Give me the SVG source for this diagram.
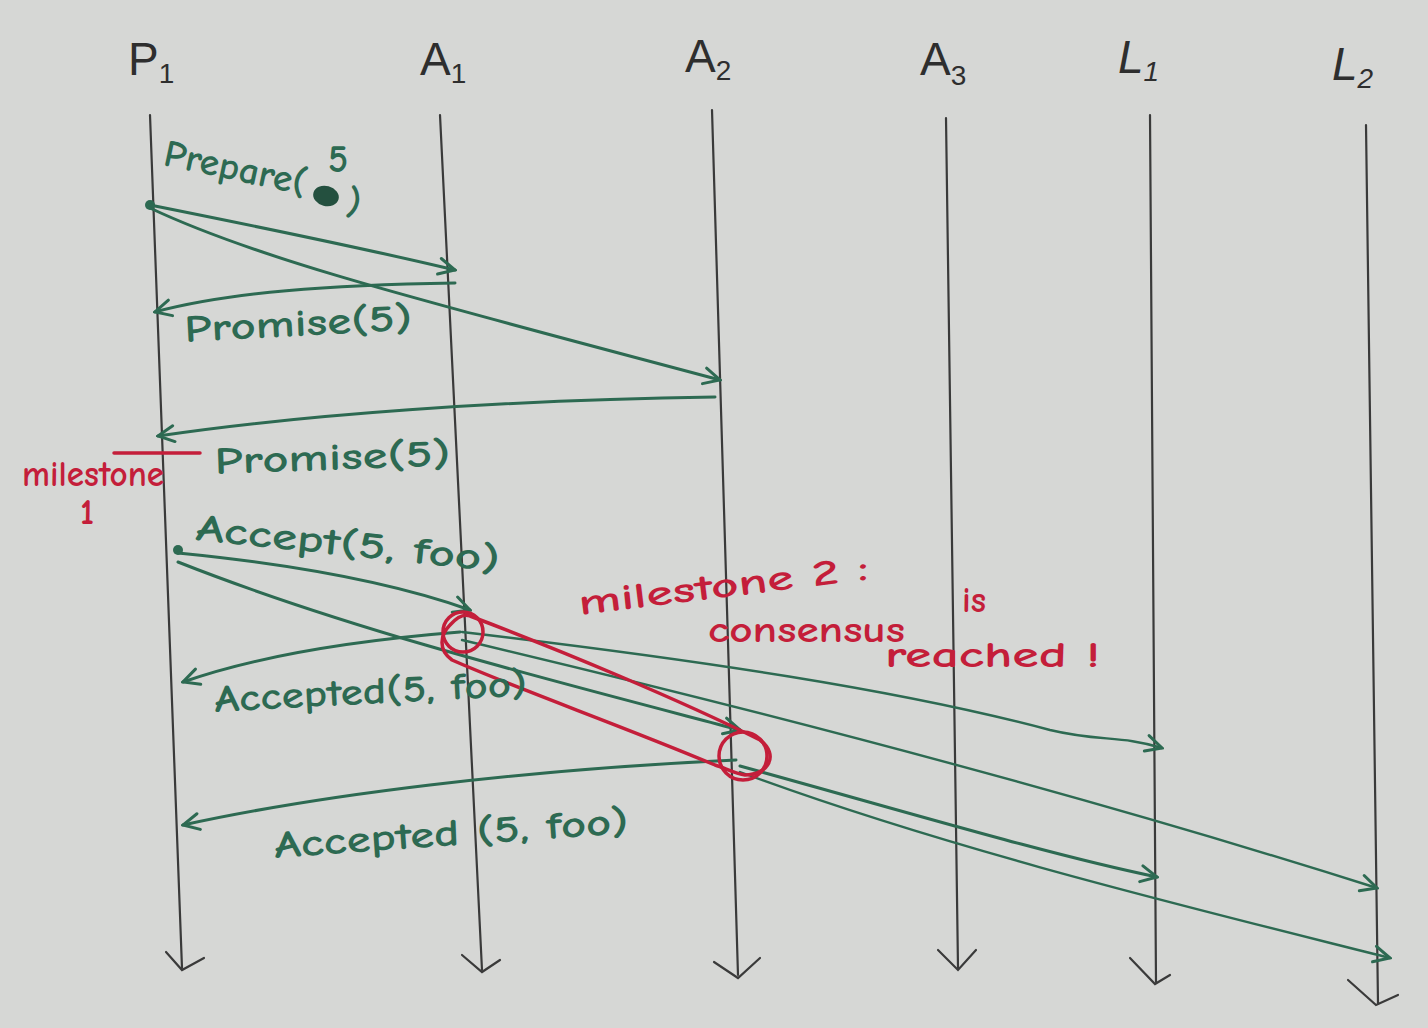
<svg xmlns="http://www.w3.org/2000/svg" width="1428" height="1028" viewBox="0 0 1428 1028">
<defs>
<style>
.life{stroke:#3a3a3a;stroke-width:2.2;fill:none;stroke-linecap:round}
.msg{stroke:#2d6a52;stroke-width:3;fill:none;stroke-linecap:round}
.thin{stroke-width:2.4}
.red{stroke:#c41e3a;stroke-width:3.5;fill:none;stroke-linecap:round}
.hd{font-family:"Liberation Sans","DejaVu Sans",sans-serif;font-size:46px;fill:#2e2e2e}
.sub{font-size:28px}
.g{font-family:"Comic Neue","Liberation Sans","DejaVu Sans",sans-serif;font-size:38px;fill:#2d6a52;font-weight:bold}
.r{font-family:"Comic Neue","Liberation Sans","DejaVu Sans",sans-serif;font-size:36px;fill:#c41e3a;font-weight:bold}
</style>
<marker id="ah" viewBox="0 0 20 20" refX="18" refY="10" markerWidth="20" markerHeight="20" markerUnits="userSpaceOnUse" orient="auto">
<path d="M2,2 L18,10 L2,18" fill="none" stroke="#2d6a52" stroke-width="3" stroke-linecap="round"/>
</marker>
</defs>
<rect width="1428" height="1028" fill="#d6d7d5"/>

<g id="P1"><text class="hd" x="128" y="75">P<tspan class="sub" dy="8">1</tspan></text>
<path class="life" d="M150,115 L182,968"/><path class="life" d="M166,952 L182,970 L204,958"/></g>
<g id="A1"><text class="hd" x="420" y="75">A<tspan class="sub" dy="8">1</tspan></text>
<path class="life" d="M440,115 L482,970"/><path class="life" d="M462,955 L482,972 L500,960"/></g>
<g id="A2"><text class="hd" x="685" y="72">A<tspan class="sub" dy="8">2</tspan></text>
<path class="life" d="M712,110 L738,975"/><path class="life" d="M714,962 L738,978 L760,958"/></g>
<g id="A3"><text class="hd" x="920" y="75">A<tspan class="sub" dy="10">3</tspan></text>
<path class="life" d="M946,118 L958,968"/><path class="life" d="M938,950 L958,970 L976,950"/></g>
<g id="L1"><text class="hd" x="1118" y="73" font-style="italic">L<tspan class="sub" dy="8">1</tspan></text>
<path class="life" d="M1150,115 L1156,982"/><path class="life" d="M1130,958 L1155,984 L1170,975"/></g>
<g id="L2"><text class="hd" x="1332" y="80" font-style="italic">L<tspan class="sub" dy="8">2</tspan></text>
<path class="life" d="M1366,125 L1378,1003"/><path class="life" d="M1348,980 L1376,1005 L1398,995"/></g>

<g id="connectors">
<circle cx="150" cy="205" r="5" fill="#2d6a52"/>
<path class="msg" d="M150,205 C250,225 350,245 455,270" marker-end="url(#ah)"/>
<path class="msg" d="M150,208 C260,260 420,300 720,380" marker-end="url(#ah)"/>
<path class="msg" d="M455,283 C330,285 230,292 155,312" marker-end="url(#ah)"/>
<path class="msg" d="M715,397 C500,400 300,415 158,436" marker-end="url(#ah)"/>
<circle cx="178" cy="550" r="5" fill="#2d6a52"/>
<path class="msg" d="M178,553 C300,565 400,585 470,610" marker-end="url(#ah)"/>
<path class="msg" d="M178,562 C350,630 550,680 740,730" marker-end="url(#ah)"/>
<path class="msg" d="M460,632 C360,640 260,655 183,682" marker-end="url(#ah)"/>
<path class="msg thin" d="M462,632 C700,660 900,690 1050,730 C1100,742 1120,735 1162,748" marker-end="url(#ah)"/>
<path class="msg thin" d="M462,640 C800,720 1100,800 1377,888" marker-end="url(#ah)"/>
<path class="msg" d="M736,760 C520,770 320,795 183,825" marker-end="url(#ah)"/>
<path class="msg" d="M740,766 C900,810 1050,855 1157,877" marker-end="url(#ah)"/>
<path class="msg thin" d="M740,772 C950,850 1200,910 1390,958" marker-end="url(#ah)"/>
</g>

<g id="milestone1">
<path class="red" d="M114,453 L200,453"/>
<text class="r" x="22" y="486" font-size="28" textLength="142" lengthAdjust="spacingAndGlyphs">milestone</text>
<text class="r" x="80" y="524" font-size="28">1</text>
</g>

<g id="milestone2">
<path class="red" d="M470,616 C560,650 680,700 760,740 C780,755 768,775 745,775 C735,774 725,768 715,765 C620,725 520,690 452,660 C438,650 440,635 450,625 C458,616 465,614 470,616 Z"/>
<circle class="red" cx="463" cy="632" r="20"/>
<circle class="red" cx="743" cy="756" r="24"/>
<text class="r" transform="translate(580,615) rotate(-7)" textLength="292" lengthAdjust="spacingAndGlyphs">milestone 2 :</text>
<text class="r" x="708" y="642" textLength="197" lengthAdjust="spacingAndGlyphs">consensus</text>
<text class="r" x="962" y="612">is</text>
<text class="r" x="885" y="667" font-size="40" textLength="215" lengthAdjust="spacingAndGlyphs">reached !</text>
</g>

<g id="labels">
<text class="g" transform="translate(162,165) rotate(12)" textLength="145" lengthAdjust="spacingAndGlyphs">Prepare(</text>
<ellipse cx="326" cy="196" rx="13" ry="10" fill="#24503f" transform="rotate(15 326 196)"/>
<text class="g" transform="translate(345,213) rotate(12)">)</text>
<text class="g" x="328" y="172" font-size="42">5</text>
<text class="g" transform="translate(185,342) rotate(-3)" textLength="228" lengthAdjust="spacingAndGlyphs">Promise(5)</text>
<text class="g" transform="translate(215,474) rotate(-2)" textLength="236" lengthAdjust="spacingAndGlyphs">Promise(5)</text>
<text class="g" font-size="40" transform="translate(195,540) rotate(6)" textLength="305" lengthAdjust="spacingAndGlyphs">Accept(5, foo)</text>
<text class="g" transform="translate(215,712) rotate(-3)" textLength="313" lengthAdjust="spacingAndGlyphs">Accepted(5, foo)</text>
<text class="g" transform="translate(275,858) rotate(-4)" textLength="355" lengthAdjust="spacingAndGlyphs">Accepted (5, foo)</text>
</g>
</svg>
